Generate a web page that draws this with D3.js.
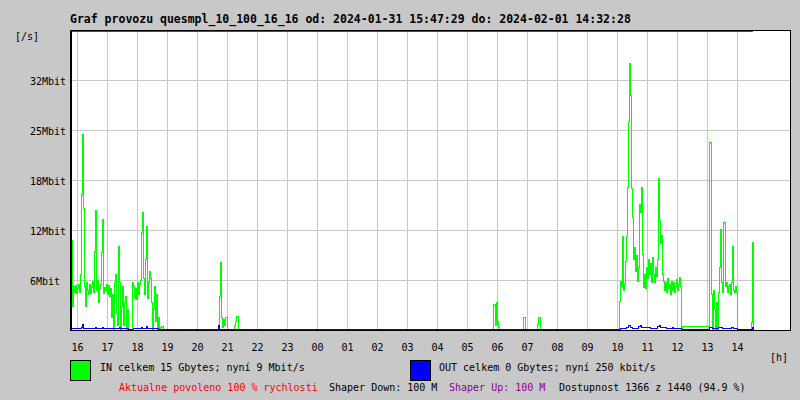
<!DOCTYPE html>
<html><head><meta charset="utf-8">
<script src="https://cdn.jsdelivr.net/npm/d3@7"></script>
<style>
html,body{margin:0;padding:0;background:#c8c8c8;}
svg{display:block;}
text{font-family:"DejaVu Sans Mono","Liberation Mono",monospace;font-size:10px;fill:#000;}
</style></head>
<body><svg id="c" width="800" height="400"></svg>
<script>
// ---------- data ----------
const titleText = "Graf provozu quesmpl_10_100_16_16 od: 2024-01-31 15:47:29 do: 2024-02-01 14:32:28";
const hourLabels = ["16","17","18","19","20","21","22","23","00","01","02","03","04","05","06","07","08","09","10","11","12","13","14"];
const yTickValues = [6.4, 12.8, 19.2, 25.6, 32];
const yTickLabels = ["6Mbit","12Mbit","18Mbit","25Mbit","32Mbit"];
const yMax = 38.4;           // Mbit/s at top of plot
const shaperLimit = 100;     // Mbit/s (off the top of the chart)
const sampleStepMin = 2;     // minutes per sample
// minutes after 2024-01-31 15:46 where each IN segment starts
const inSegmentStarts = [2, 296, 846, 904, 934, 1096];
const inSegA = [11.4,3,5.5,4.8,5.6,4.6,5.2,5.8,4.8,7,17.3,25,15.5,5.5,3,6,5,4.5,5.8,4.6,5.4,6.2,4.8,10,15.2,5,6.3,3.5,5.2,5.8,9.8,14.1,4.6,5.4,5,5.8,4.5,5.6,4.2,5.2,1.5,4.5,0,6,7,2,0.5,10.6,6,0,3,5.5,0.5,3.5,4.2,0,2.5,0,0,0,0,6,5.5,4,5.2,3.8,6,4.5,5.8,6.3,12.4,15,6.5,4.5,9,13.2,4,6,7.4,6.5,3.5,0,2.5,5.5,1,4.5,0,1.5,0,0.3,0.4,0.4,0];
const inSegB = [0,4.2,8.6,1.5,0.3,1.3,0.5,1.5,1.5,0,0,0,0,0,0,0,0.5,1,1.7,1.7,0];
const inSegC = [3.2,3.2,0.5,3.5,1,0.3,0];
const inSegD = [0,1.5,1.5,0];
const inSegE = [0.6,1.5,1.5,0];
const inSegF = [0,3.6,6.1,5.5,11.9,5,5.8,8.7,11.9,18.2,26.6,34,30,18,14.3,9,10.5,7.4,9.5,6.1,8,16,15,18.2,9.6,5.4,7,5.2,8,6.5,9,7,8.5,6,9.2,7,6,8,6.8,9,19.3,14,11,12,7,6.1,5,6,4.8,6.5,5.2,5.8,4.5,6.2,5,6,4.8,5.5,6.4,5,5.8,6.6,5.5,0,
  0.4,0.4,0.4,0.4,0.4,0.4,0.4,0.4,0.4,0.4,0.4,0.4,0.4,0.4,0.4,0.4,0.4,0.4,0.4,0.4,0.4,0.4,0.4,0.4,0.4,0.4,0.4,
  24,24,4.5,0,5,2.6,0,3.5,0,4.7,8,12.8,6,4.7,13.7,13.7,5.5,6,4.7,5.5,5.8,4.5,6,10.6,5,4.8,5.5,4.7,0,
  0,0,0,0,0,0,0,0,0,0,0,0,0,0.9,11.1,0];
// OUT: change points (minutes after 15:46) and values, Mbit/s
const outTimes  = [0,2,22,24,26,50,52,64,66,98,100,116,126,142,144,152,154,176,296,298,1100,1112,1116,1120,1124,1136,1140,1142,1160,1174,1178,1180,1192,1204,1206,1222,1278,1284,1296,1304,1322,1326,1334,1364,1366];
const outValues = [0,0.15,0.3,0.6,0.15,0.25,0.15,0.25,0.15,0.25,0.1,0,0.15,0.25,0.15,0.35,0.15,0,0.45,0,0.1,0.3,0.5,0.3,0.15,0.35,0.5,0.2,0.15,0.4,0.5,0.2,0.15,0.25,0.1,0,0.2,0.1,0.3,0.1,0.25,0.1,0,0.3,0];
const legendIn  = "IN celkem 15 Gbytes; nyní 9 Mbit/s";
const legendOut = "OUT celkem 0 Gbytes; nyní 250 kbit/s";
const footer = [
  {t:"Aktualne povoleno 100 % rychlosti", c:"#ff0000", x:119},
  {t:"Shaper Down: 100 M", c:"#000000", x:329},
  {t:"Shaper Up: 100 M", c:"#880088", x:449},
  {t:"Dostupnost 1366 z 1440 (94.9 %)", c:"#000000", x:559}
];

// ---------- chart ----------
const T0 = new Date(2024, 0, 31, 15, 46);
const addMin = m => new Date(T0.getTime() + m * 60000);
const L = 70, R = 790, T = 30, B = 330;
const x = d3.scaleTime().domain([T0, addMin(1440)]).range([L, R]);
const y = d3.scaleLinear().domain([0, yMax]).range([B, T]);
const svg = d3.select("#c");

svg.append("rect").attr("x", L).attr("y", T).attr("width", R - L).attr("height", B - T).attr("fill", "#fff");

// grid
const hours = x.ticks(d3.timeHour.every(1)).filter(d => x(d) < 750);
svg.append("g").selectAll("line").data(hours).join("line")
  .attr("x1", d => Math.round(x(d)) + 0.5).attr("x2", d => Math.round(x(d)) + 0.5)
  .attr("y1", T).attr("y2", B).attr("stroke", "#c8c8c8");
svg.append("g").selectAll("line").data(yTickValues).join("line")
  .attr("x1", L).attr("x2", R).attr("y1", d => Math.round(y(d)) + 0.5).attr("y2", d => Math.round(y(d)) + 0.5)
  .attr("stroke", "#c8c8c8");

// series
const inPts = [{t: T0, v: 0}];
[inSegA, inSegB, inSegC, inSegD, inSegE, inSegF].forEach((seg, si) => {
  seg.forEach((v, i) => inPts.push({t: addMin(inSegmentStarts[si] + i * sampleStepMin), v}));
});
const outPts = outTimes.map((m, i) => ({t: addMin(m), v: outValues[i]}));
const line = d3.line().x(d => Math.round(x(d.t)) + 0.5).y(d => Math.round(y(d.v)) - 0.5).curve(d3.curveStepAfter);
svg.append("path").datum(inPts).attr("d", line).attr("fill", "none").attr("stroke", "#00ff00").attr("stroke-width", 1).attr("shape-rendering", "crispEdges");
svg.append("path").datum(outPts).attr("d", line).attr("fill", "none").attr("stroke", "#0000ff").attr("stroke-width", 1).attr("shape-rendering", "crispEdges");

// shaper limit line (clipped at top)
svg.append("line").attr("x1", L).attr("x2", x(addMin(1366)) ).attr("y1", y(Math.min(shaperLimit, yMax)) + 1.5).attr("y2", y(Math.min(shaperLimit, yMax)) + 1.5)
  .attr("stroke", "#ff0000");

// frame
svg.append("rect").attr("x", L + 0.5).attr("y", T + 0.5).attr("width", R - L).attr("height", B - T)
  .attr("fill", "none").attr("stroke", "#000");
svg.append("line").attr("x1", L + 1.5).attr("x2", L + 1.5).attr("y1", T).attr("y2", B).attr("stroke", "#000");

// labels
svg.append("text").attr("x", 70).attr("y", 23).style("font-weight", "bold").style("font-size", "11.5px").text(titleText);
svg.append("text").attr("x", 15).attr("y", 40).text("[/s]");
svg.append("g").selectAll("text").data(yTickValues).join("text")
  .attr("x", 30).attr("y", d => Math.round(y(d)) + 4.5).text((d, i) => yTickLabels[i]);
svg.append("g").selectAll("text").data(hours).join("text")
  .attr("x", d => x(d) + 0.5).attr("y", 351).attr("text-anchor", "middle").text((d, i) => hourLabels[i]);
svg.append("text").attr("x", 770).attr("y", 361).text("[h]");

// legend
svg.append("rect").attr("x", 70.5).attr("y", 360.5).attr("width", 20).attr("height", 20).attr("fill", "#00ff00").attr("stroke", "#000");
svg.append("text").attr("x", 100).attr("y", 371).text(legendIn);
svg.append("rect").attr("x", 410.5).attr("y", 360.5).attr("width", 20).attr("height", 20).attr("fill", "#0000ff").attr("stroke", "#000");
svg.append("text").attr("x", 439).attr("y", 371).text(legendOut);
svg.append("g").selectAll("text").data(footer).join("text")
  .attr("x", d => d.x).attr("y", 391).style("fill", d => d.c).text(d => d.t);
</script></body></html>
